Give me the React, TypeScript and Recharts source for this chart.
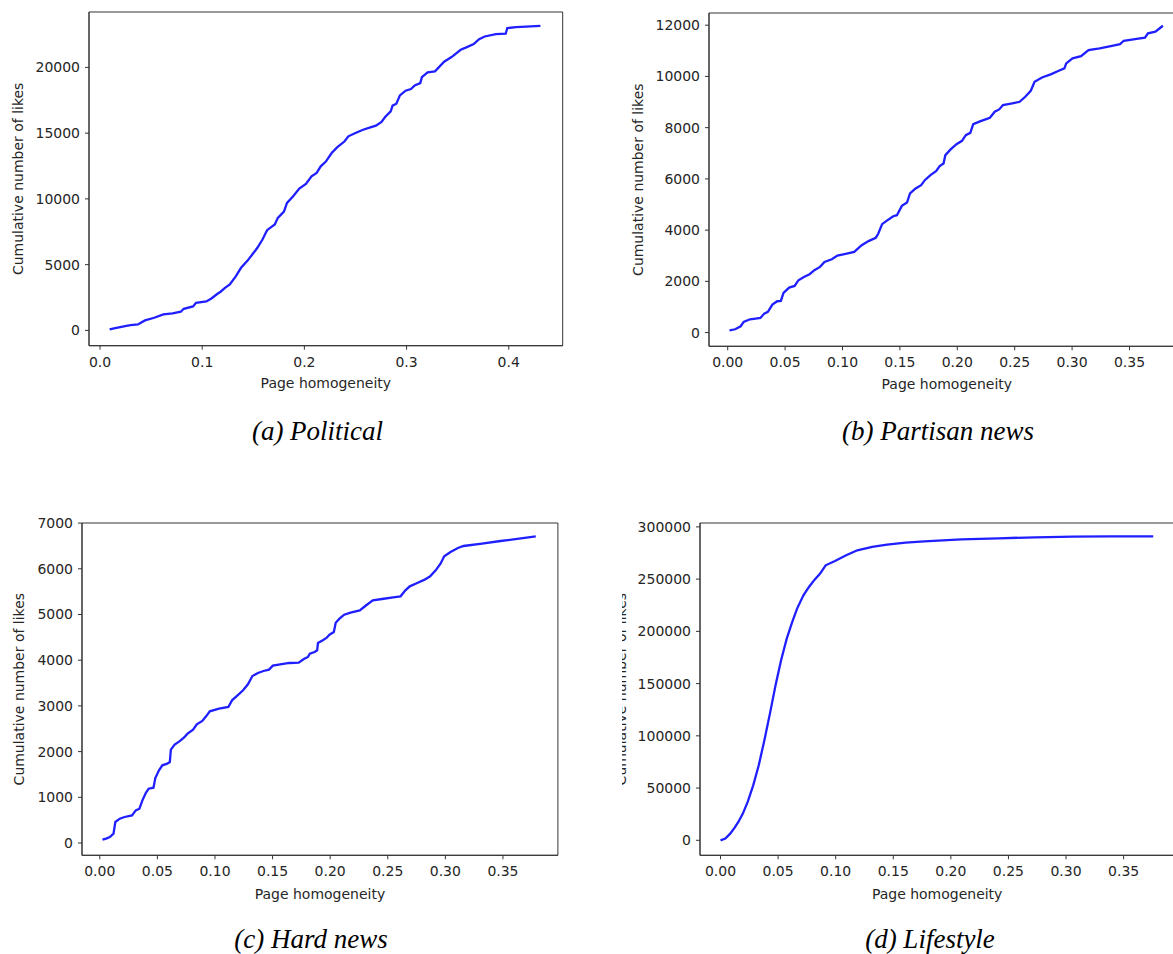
import React from "react";
import { LineChart, Line, XAxis, YAxis, ReferenceArea, Label } from "recharts";

// (a) Political
const politicalX = [
  0.0094, 0.0137, 0.0245, 0.03, 0.037, 0.044, 0.053, 0.062, 0.071, 0.079,
  0.082, 0.091, 0.094, 0.104, 0.109, 0.115, 0.118, 0.122, 0.127, 0.133,
  0.138, 0.144, 0.149, 0.154, 0.159, 0.1635, 0.171, 0.174, 0.18, 0.183,
  0.189, 0.195, 0.2015, 0.207, 0.212, 0.216, 0.221, 0.2267, 0.232, 0.2394,
  0.243, 0.25, 0.2574, 0.2646, 0.27, 0.2755, 0.279, 0.2845, 0.2863, 0.29,
  0.2935, 0.299, 0.3043, 0.308, 0.3134, 0.315, 0.3206, 0.3278, 0.3368, 0.344,
  0.353, 0.3585, 0.3657, 0.371, 0.3765, 0.3874, 0.397, 0.3986, 0.4072, 0.431,
];
const politicalLikes = [
  76, 150, 330, 400, 450, 760, 960, 1215, 1290, 1420,
  1645, 1820, 2100, 2200, 2430, 2785, 2940, 3215, 3490, 4130,
  4760, 5270, 5770, 6280, 6910, 7620, 8050, 8560, 9040, 9700,
  10200, 10785, 11140, 11720, 11975, 12480, 12835, 13490, 13920, 14380,
  14760, 15010, 15260, 15440, 15570, 15850, 16230, 16660, 17090, 17240,
  17870, 18230, 18350, 18630, 18810, 19260, 19620, 19700, 20430, 20785,
  21340, 21520, 21770, 22150, 22350, 22530, 22560, 22990, 23060, 23165,
];

// (b) Partisan news
const partisanX = [
  0.0016, 0.0065, 0.0113, 0.0139, 0.0194, 0.0243, 0.0285, 0.0318, 0.035, 0.0389,
  0.0431, 0.0463, 0.0486, 0.0535, 0.0583, 0.0616, 0.0664, 0.0713, 0.0755, 0.0804,
  0.0843, 0.0907, 0.0956, 0.1037, 0.1102, 0.1167, 0.1231, 0.129, 0.1312, 0.1345,
  0.1393, 0.1442, 0.1474, 0.1517, 0.1562, 0.1588, 0.1637, 0.1685, 0.1717, 0.1766,
  0.1815, 0.1847, 0.188, 0.1896, 0.1944, 0.1993, 0.2041, 0.2074, 0.2113, 0.2139,
  0.2203, 0.2252, 0.2284, 0.2326, 0.2365, 0.2398, 0.2479, 0.2543, 0.2592, 0.264,
  0.2673, 0.2738, 0.2819, 0.2884, 0.2933, 0.2949, 0.3004, 0.3078, 0.3143, 0.324,
  0.3337, 0.3418, 0.345, 0.3548, 0.3635, 0.3661, 0.3726, 0.3791,
];
const partisanLikes = [
  91, 130, 247, 417, 520, 547, 573, 742, 807, 1094,
  1224, 1237, 1549, 1758, 1823, 2044, 2174, 2279, 2435, 2565,
  2760, 2864, 3008, 3086, 3151, 3411, 3581, 3698, 3867, 4232,
  4388, 4544, 4583, 4948, 5078, 5430, 5625, 5755, 5950, 6145,
  6301, 6497, 6600, 6926, 7160, 7356, 7486, 7707, 7798, 8137,
  8254, 8333, 8385, 8620, 8711, 8880, 8945, 9010, 9205, 9440,
  9792, 9961, 10091, 10221, 10312, 10508, 10703, 10794, 11029, 11094,
  11185, 11263, 11393, 11458, 11510, 11680, 11745, 11979,
];

// (c) Hard news
const hardNewsX = [
  0.0023, 0.0055, 0.0087, 0.0119, 0.0135, 0.0174, 0.0215, 0.028, 0.0312, 0.0344,
  0.037, 0.0399, 0.0424, 0.0466, 0.0482, 0.0514, 0.0543, 0.0585, 0.0608, 0.0617,
  0.065, 0.0691, 0.073, 0.0762, 0.081, 0.0842, 0.089, 0.0923, 0.0955, 0.1035,
  0.1116, 0.1148, 0.1196, 0.1244, 0.1286, 0.1325, 0.1373, 0.1421, 0.1469, 0.1502,
  0.1566, 0.1646, 0.1727, 0.1768, 0.1807, 0.1823, 0.1865, 0.1887, 0.1894, 0.1936,
  0.1968, 0.1994, 0.2032, 0.2048, 0.2081, 0.2122, 0.2177, 0.2257, 0.2305, 0.237,
  0.245, 0.2547, 0.2611, 0.2653, 0.2691, 0.2756, 0.282, 0.2868, 0.2916, 0.2958,
  0.299, 0.3045, 0.3109, 0.3158, 0.3318, 0.3479, 0.364, 0.3785,
];
const hardNewsLikes = [
  73, 95, 131, 204, 460, 532, 569, 605, 715, 751,
  934, 1094, 1189, 1211, 1422, 1590, 1700, 1736, 1772, 2042,
  2152, 2225, 2305, 2392, 2480, 2597, 2670, 2772, 2881, 2939,
  2976, 3122, 3231, 3341, 3472, 3654, 3720, 3764, 3793, 3880,
  3909, 3939, 3946, 4019, 4070, 4143, 4179, 4216, 4376, 4435,
  4486, 4559, 4617, 4821, 4909, 4996, 5040, 5091, 5186, 5310,
  5339, 5376, 5398, 5529, 5616, 5689, 5762, 5835, 5966, 6112,
  6273, 6368, 6455, 6499, 6550, 6608, 6659, 6710,
];

// (d) Lifestyle
const lifestyleX = [
  0, 0.0042, 0.0084, 0.0123, 0.0155, 0.0194, 0.0236, 0.0284, 0.0332, 0.0381,
  0.0429, 0.0478, 0.0526, 0.0575, 0.0623, 0.0665, 0.072, 0.0768, 0.0817, 0.0865,
  0.0913, 0.0994, 0.1091, 0.1188, 0.1317, 0.1446, 0.1607, 0.1769, 0.193, 0.2092,
  0.2414, 0.2737, 0.306, 0.3383, 0.3757,
];
const lifestyleLikes = [
  0, 1600, 6380, 12130, 17550, 25530, 36700, 52650, 71800, 95730,
  121250, 148370, 172300, 193040, 209000, 221760, 234520, 242500, 249520, 255260,
  263240, 267390, 272810, 277600, 280790, 283020, 284940, 286210, 287170, 288130,
  289090, 290040, 290680, 291000, 291000,
];

// tick values
const politicalXTicks = [0, 0.1, 0.2, 0.3, 0.4];
const newsXTicks = [0, 0.05, 0.1, 0.15, 0.2, 0.25, 0.3, 0.35];
const politicalYTicks = [0, 5000, 10000, 15000, 20000];
const partisanYTicks = [0, 2000, 4000, 6000, 8000, 10000, 12000];
const hardNewsYTicks = [0, 1000, 2000, 3000, 4000, 5000, 6000, 7000];
const lifestyleYTicks = [0, 50000, 100000, 150000, 200000, 250000, 300000];

const toRows = (xs: number[], ys: number[]) => xs.map((x, i) => ({ x, y: ys[i] }));

const TEXT = "#262626";
const SPINE = "#333";
const Y_AXIS_W = 80;
const X_AXIS_H = 50;
const PAD_TOP = 12;
const PAD_RIGHT = 4;

type PanelProps = {
  data: { x: number; y: number }[];
  box: [number, number, number, number]; // left, top, right, bottom
  xDomain: [number, number];
  yDomain: [number, number];
  xTicks: number[];
  yTicks: number[];
  digits: number;
  yLabelX: number;
  xLabelBaseline: number;
  originX?: number;
};

function Panel(p: PanelProps) {
  const [l, t, r, b] = p.box;
  const originX = p.originX ?? 0;
  const chartLeft = l - Y_AXIS_W;
  const width = Y_AXIS_W + (r - l) + PAD_RIGHT;
  const height = PAD_TOP + (b - t) + X_AXIS_H;
  const tick = { fill: TEXT, fontSize: 14 };
  return (
    <div style={{ position: "absolute", left: chartLeft - originX, top: t - PAD_TOP }}>
      <LineChart width={width} height={height} data={p.data} margin={{ top: PAD_TOP, right: PAD_RIGHT, bottom: 0, left: 0 }}>
        <XAxis
          type="number"
          dataKey="x"
          domain={p.xDomain}
          ticks={p.xTicks}
          allowDataOverflow
          interval={0}
          height={X_AXIS_H}
          tickSize={4}
          tickMargin={7}
          stroke={SPINE}
          tick={tick}
          tickFormatter={(v: number) => v.toFixed(p.digits)}
        >
          <Label
            value="Page homogeneity"
            position="insideBottom"
            offset={b + X_AXIS_H - p.xLabelBaseline}
            fill={TEXT}
            fontSize={14}
          />
        </XAxis>
        <YAxis
          type="number"
          domain={p.yDomain}
          ticks={p.yTicks}
          allowDataOverflow
          interval={0}
          width={Y_AXIS_W}
          tickSize={4}
          tickMargin={5}
          stroke={SPINE}
          tick={tick}
        >
          <Label
            value="Cumulative number of likes"
            angle={-90}
            position="insideLeft"
            offset={p.yLabelX - chartLeft}
            fill={TEXT}
            fontSize={14}
            style={{ textAnchor: "middle" }}
          />
        </YAxis>
        <ReferenceArea
          x1={p.xDomain[0]}
          x2={p.xDomain[1]}
          y1={p.yDomain[0]}
          y2={p.yDomain[1]}
          fill="none"
          stroke={SPINE}
          strokeWidth={1}
          ifOverflow="visible"
        />
        <Line
          type="linear"
          dataKey="y"
          stroke="#1f1fff"
          strokeWidth={2.3}
          dot={false}
          isAnimationActive={false}
        />
      </LineChart>
    </div>
  );
}

const captionStyle = {
  fontFamily: "'Liberation Serif', 'Times New Roman', serif",
  fontStyle: "italic",
  fontSize: 27,
  fill: "#000",
} as const;

export default function App() {
  return (
    <div
      style={{
        position: "relative",
        width: 1173,
        height: 954,
        overflow: "hidden",
        background: "#fff",
        fontFamily: "'DejaVu Sans', sans-serif",
      }}
    >
      <style>{"body{margin:0}"}</style>
      <Panel
        data={toRows(politicalX, politicalLikes)}
        box={[89.3, 12.3, 563, 346]}
        xDomain={[-0.0108, 0.4528]}
        yDomain={[-1163, 24213]}
        xTicks={politicalXTicks}
        yTicks={politicalYTicks}
        digits={1}
        yLabelX={18.5}
        xLabelBaseline={388.5}
      />
      <Panel
        data={toRows(partisanX, partisanLikes)}
        box={[709, 12.7, 1184.6, 346]}
        xDomain={[-0.0163, 0.398]}
        yDomain={[-535, 12476]}
        xTicks={newsXTicks}
        yTicks={partisanYTicks}
        digits={2}
        yLabelX={638.5}
        xLabelBaseline={388.5}
      />
      <Panel
        data={toRows(hardNewsX, hardNewsLikes)}
        box={[81.5, 522.7, 557.4, 855]}
        xDomain={[-0.01545, 0.3977]}
        yDomain={[-269, 7002]}
        xTicks={newsXTicks}
        yTicks={hardNewsYTicks}
        digits={2}
        yLabelX={19}
        xLabelBaseline={898.5}
      />
      {/* the reference crops the left edge of this panel, cutting its y label */}
      <div style={{ position: "absolute", left: 622, top: 0, width: 1173 - 622, height: 954, overflow: "hidden" }}>
        <Panel
          data={toRows(lifestyleX, lifestyleLikes)}
          box={[700.4, 522.7, 1174.7, 855]}
          xDomain={[-0.0178, 0.394]}
          yDomain={[-14358, 303724]}
          xTicks={newsXTicks}
          yTicks={lifestyleYTicks}
          digits={2}
          yLabelX={621}
          xLabelBaseline={898.5}
          originX={622}
        />
      </div>
      <svg width={1173} height={954} style={{ position: "absolute", left: 0, top: 0, pointerEvents: "none" }}>
        <text x={317.5} y={440} textAnchor="middle" style={captionStyle}>(a) Political</text>
        <text x={938} y={440} textAnchor="middle" style={captionStyle}>(b) Partisan news</text>
        <text x={311} y={948} textAnchor="middle" style={captionStyle}>(c) Hard news</text>
        <text x={930} y={948} textAnchor="middle" style={captionStyle}>(d) Lifestyle</text>
      </svg>
    </div>
  );
}
